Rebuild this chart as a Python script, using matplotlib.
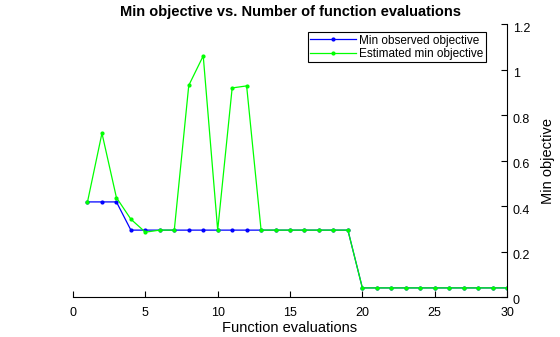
import numpy as np
import matplotlib.pyplot as plt
import matplotlib.transforms as mtransforms

plt.rcParams['font.family'] = ['Liberation Sans', 'DejaVu Sans']

evals = np.arange(1, 31)
min_observed = [0.418, 0.418, 0.418, 0.294, 0.294, 0.294, 0.294, 0.294, 0.294, 0.294,
                0.294, 0.294, 0.294, 0.294, 0.294, 0.294, 0.294, 0.294, 0.294, 0.04,
                0.04, 0.04, 0.04, 0.04, 0.04, 0.04, 0.04, 0.04, 0.04, 0.04]
est_min = [0.418, 0.72, 0.437, 0.342, 0.285, 0.294, 0.294, 0.93, 1.06, 0.294,
           0.919, 0.928, 0.294, 0.294, 0.294, 0.294, 0.294, 0.294, 0.294, 0.04,
           0.04, 0.04, 0.04, 0.04, 0.04, 0.04, 0.04, 0.04, 0.04, 0.04]

fig = plt.figure(figsize=(5.6, 3.37), dpi=100)
ax = fig.add_axes([0.1304, 0.1187, 0.775, 0.81])

ax.plot(evals, min_observed, color=(0, 0, 1), marker='.', markersize=4, lw=0.9,
        label="Min observed objective")
ax.plot(evals, est_min, color=(0, 1, 0), marker='.', markersize=4, lw=0.9,
        label="Estimated min objective")

ax.set_xlim(0, 30)
ax.set_ylim(0, 1.2)
ax.set_xticks([0, 5, 10, 15, 20, 25, 30])
ax.set_yticks([0, 0.2, 0.4, 0.6, 0.8, 1, 1.2])
ax.set_yticklabels(['0', '0.2', '0.4', '0.6', '0.8', '1', '1.2'])

ax.spines['top'].set_visible(False)
ax.spines['left'].set_visible(False)
ax.yaxis.tick_right()
ax.yaxis.set_label_position('right')
ax.tick_params(direction='in', length=4, width=0.8, labelsize=9)
ax.tick_params(axis='x', pad=7)
ax.tick_params(axis='y', pad=4)

# MATLAB puts the right-hand labels a touch below their ticks
shift = mtransforms.ScaledTranslation(0, -3 / 100, fig.dpi_scale_trans)
for lbl in ax.get_yticklabels():
    lbl.set_transform(lbl.get_transform() + shift)

ax.set_xlabel("Function evaluations", fontsize=10.5, labelpad=2)
ax.set_ylabel("Min objective", fontsize=10.5, labelpad=8)
ax.set_title("Min objective vs. Number of function evaluations", fontsize=10.5,
             fontweight='bold', pad=6)

leg = ax.legend(loc='upper right', bbox_to_anchor=(0.951, 0.97), fontsize=8.5,
                fancybox=False, framealpha=1, edgecolor='black', borderpad=0.2,
                labelspacing=0.1, handlelength=3.9, handletextpad=0.25,
                borderaxespad=0)
leg.get_frame().set_linewidth(0.8)

fig.savefig("out.png", dpi=100)
